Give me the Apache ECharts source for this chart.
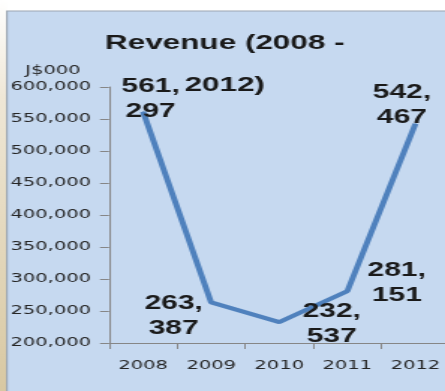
<!DOCTYPE html>
<html>
<head>
<meta charset="utf-8">
<title>Revenue (2008 - 2012)</title>
<script src="https://cdn.jsdelivr.net/npm/echarts@6/dist/echarts.min.js"></script>
<style>
  html, body { margin: 0; padding: 0; background: #ffffff; overflow: hidden; width: 445px; height: 391px; }
  /* the chart is laid out on a 300px-wide canvas and widened to fill the window */
  #chart { width: 300px; height: 391px; transform: scaleX(1.4983); transform-origin: 0 0; }
</style>
</head>
<body>
<div id="chart"></div>
<script>
// Revenue by year, in J$000
const years = ['2008', '2009', '2010', '2011', '2012'];
const revenue = [561297, 263387, 232537, 281151, 542467];

// value axis range
const yMin = 200000;
const yMax = 600000;
const yStep = 50000;

// where each value label sits relative to its point
const labelOffsets = [[5, -13], [-25, 14], [35, 2], [33, -8], [-9, -19]];

const fmt = v => Number(v).toLocaleString('en-US');

const chart = echarts.init(document.getElementById('chart'), null, { renderer: 'canvas' });

chart.setOption({
  backgroundColor: '#ffffff',
  animation: false,
  title: {
    text: 'Revenue (2008 -\n2012)',
    left: 150,
    textAlign: 'center',
    top: 22,
    padding: 0,
    textStyle: {
      fontFamily: 'Liberation Sans',
      fontWeight: 'bold',
      fontSize: 21,
      lineHeight: 42,
      color: '#1a1a1a'
    }
  },
  graphic: [
    {
      type: 'rect',
      silent: true,
      z: -10,
      shape: { x: 0, y: 0, width: 4.6, height: 391 },
      style: {
        fill: new echarts.graphic.LinearGradient(0, 0, 0, 1, [
          { offset: 0, color: '#ffffff' },
          { offset: 0.25, color: '#efe7d6' },
          { offset: 1, color: '#d8c8a2' }
        ])
      }
    },
    {
      type: 'rect',
      silent: true,
      z: -10,
      shape: { x: 4.6, y: 11, width: 300, height: 390 },
      style: { fill: '#c6d9f0', stroke: '#9ca6b2', lineWidth: 1.2 }
    }
  ],
  grid: {
    left: 72.75,
    right: 0,
    top: 87,
    bottom: 48,
    containLabel: false
  },
  xAxis: {
    type: 'category',
    data: years,
    boundaryGap: true,
    axisLine: { lineStyle: { color: '#868686', width: 1 } },
    axisTick: { show: true, length: 6, alignWithLabel: false, lineStyle: { color: '#868686' } },
    axisLabel: {
      margin: 16,
      fontFamily: 'DejaVu Sans',
      fontSize: 13,
      color: '#262626'
    },
    splitLine: { show: false }
  },
  yAxis: {
    type: 'value',
    min: yMin,
    max: yMax,
    interval: yStep,
    name: 'J$000',
    nameLocation: 'end',
    nameGap: 16,
    nameTextStyle: {
      fontFamily: 'DejaVu Sans',
      fontSize: 13,
      color: '#262626',
      align: 'right',
      verticalAlign: 'middle',
      padding: [0, 19, 0, 0]
    },
    axisLine: { show: true, lineStyle: { color: '#868686', width: 1 } },
    axisTick: { show: true, length: 6, lineStyle: { color: '#868686' } },
    axisLabel: {
      margin: 12,
      fontFamily: 'DejaVu Sans',
      fontSize: 13,
      color: '#262626',
      formatter: fmt
    },
    splitLine: { show: false }
  },
  series: [
    {
      type: 'line',
      data: revenue.map((v, i) => ({
        value: v,
        label: { offset: labelOffsets[i] }
      })),
      symbol: 'circle',
      symbolSize: 1,
      showSymbol: true,
      itemStyle: { color: '#4f81bd' },
      lineStyle: { color: '#4f81bd', width: 4 },
      label: {
        show: true,
        position: 'inside',
        formatter: p => fmt(p.value).replace(',', ',\n'),
        fontFamily: 'Liberation Sans',
        fontWeight: 'bold',
        fontSize: 20,
        lineHeight: 25,
        align: 'center',
        color: '#1a1a1a'
      },
      z: 3
    }
  ]
});
</script>
</body>
</html>
